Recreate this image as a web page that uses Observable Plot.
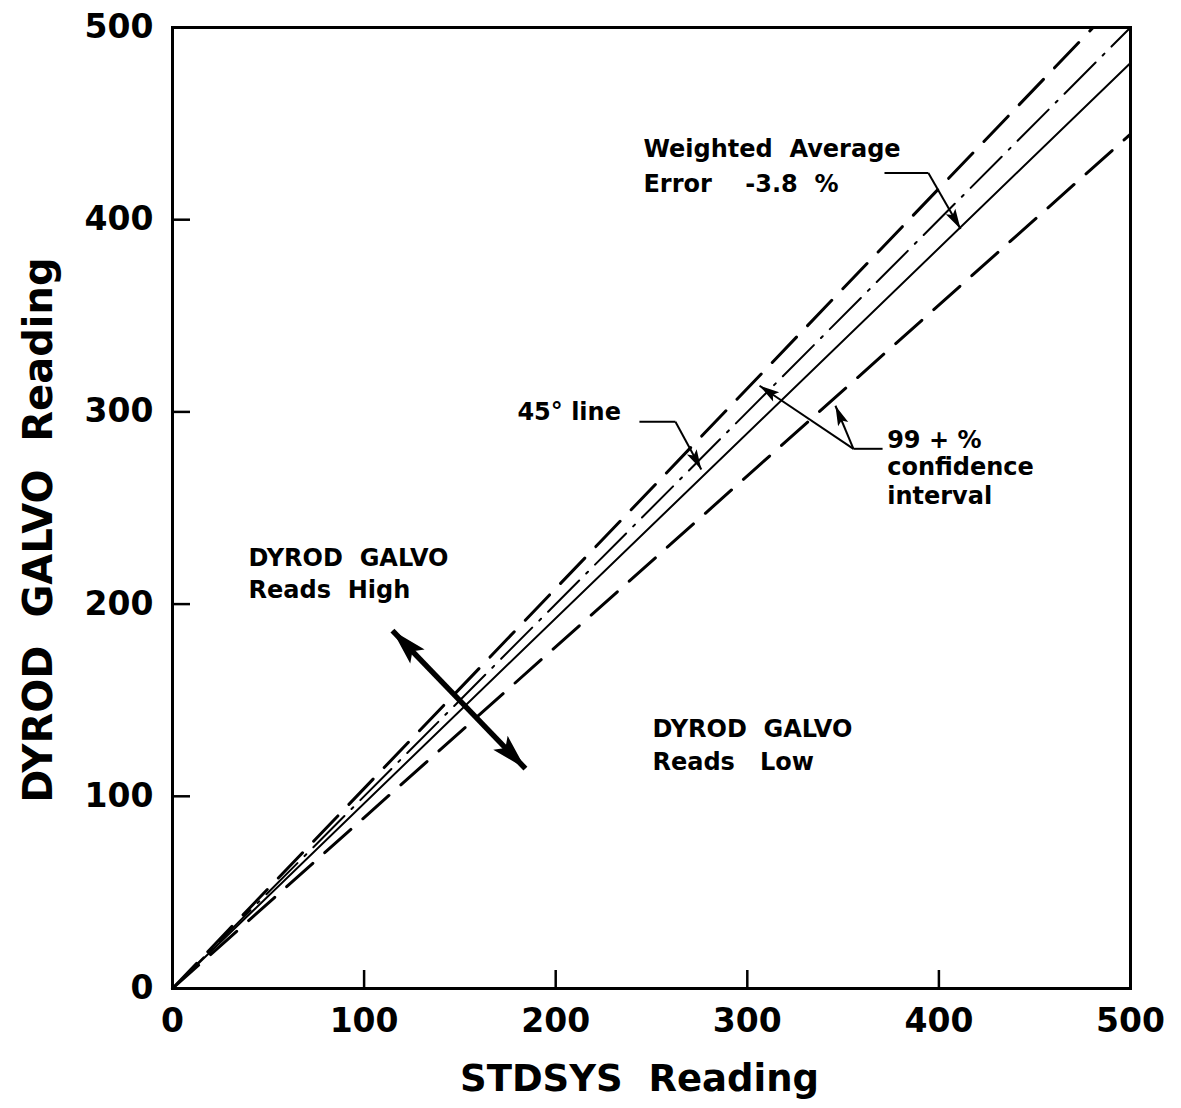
<!DOCTYPE html>
<html><head><meta charset="utf-8">
<script src="https://cdn.jsdelivr.net/npm/d3@7"></script>
<script src="https://cdn.jsdelivr.net/npm/@observablehq/plot@0.6"></script>
<style>
html,body{margin:0;padding:0;background:#fff;}
svg text{white-space:pre;}
</style></head><body><div id="chart"></div>
<script>
// ---- data ----
const axisTicks = [0, 100, 200, 300, 400, 500];
const innerTicks = [100, 200, 300, 400];

// reference lines (endpoints)
const line45X = [0, 500],  line45Y = [0, 500];      // 45° line
const fitX    = [0, 500],  fitY    = [0, 481.5];    // weighted average, -3.8 %
const upperX  = [0, 480.5],upperY  = [0, 500];      // 99+% confidence (upper)
const lowerX  = [0, 500],  lowerY  = [0, 444.5];    // 99+% confidence (lower)

// annotation texts
const noteText = ["Weighted  Average", "Error    -3.8  %", "45\u00b0 line", "99 + %", "confidence", "interval",
                  "DYROD  GALVO", "Reads  High", "DYROD  GALVO", "Reads   Low"];
const noteX = [245.8, 245.8, 180, 373, 373, 373, 39.7, 39.7, 250.5, 250.5];
const noteY = [436.8, 418.6, 300, 285, 271, 256, 224, 207, 135, 117.5];

// leader lines: horizontal part
const leadHX1 = [371.6, 243.7, 370.6];
const leadHX2 = [394.5, 262.5, 355.4];
const leadHY  = [424.3, 294.9, 280.8];
// leader arrows
const leadAX1 = [394.5, 262.5, 355.4, 355.4];
const leadAY1 = [424.3, 294.9, 280.8, 280.8];
const leadAX2 = [411.3, 276, 306.4, 346];
const leadAY2 = [395.2, 270, 313.6, 303.2];

// double arrow (reads high / reads low)
const dblX = [114.8, 184.2];
const dblY = [186.2, 114.4];

// ---- layout ----
const W = 1181, H = 1108;
const mT = 27, mR = 51, mB = 120, mL = 172;
const sx = (W - mL - mR) / 500, sy = (H - mT - mB) / 500;  // px per unit
const tickPx = 18;

const pts = (xs, ys) => xs.map((x, i) => ({x, y: ys[i]}));
const idx = (a) => a.map((_, i) => i);
// screen-space heading (degrees clockwise from "up") from (x1,y1) toward (x2,y2)
const heading = (x1, y1, x2, y2) => Math.atan2((x2 - x1) * sx, (y2 - y1) * sy) * 180 / Math.PI;
// narrow filled arrowhead with its tip at the anchor point
const head = (L, w) => ({draw(ctx) { ctx.moveTo(0, 0); ctx.lineTo(w, L); ctx.lineTo(0, L * 0.8); ctx.lineTo(-w, L); ctx.closePath(); }});

const leadHeads = idx(leadAX2).map(i => ({x: leadAX2[i], y: leadAY2[i], r: heading(leadAX1[i], leadAY1[i], leadAX2[i], leadAY2[i])}));
const dblHeads = [
  {x: dblX[0], y: dblY[0], r: heading(dblX[1], dblY[1], dblX[0], dblY[0])},
  {x: dblX[1], y: dblY[1], r: heading(dblX[0], dblY[0], dblX[1], dblY[1])}
];

const chart = Plot.plot({
  width: W, height: H,
  marginTop: mT, marginRight: mR, marginBottom: mB, marginLeft: mL,
  style: {fontFamily: "DejaVu Sans", background: "#fff", color: "#000"},
  x: {domain: [0, 500]},
  y: {domain: [0, 500]},
  marks: [
    Plot.axisX(axisTicks, {tickSize: 0, tickPadding: 20, fontSize: 33, fontWeight: "bold", label: null}),
    Plot.axisY(axisTicks, {tickSize: 0, tickPadding: 19, fontSize: 33, fontWeight: "bold", label: null}),
    Plot.ruleX(innerTicks, {x: d => d, y1: 0, y2: tickPx / sy, strokeWidth: 2.5}),
    Plot.ruleY(innerTicks, {y: d => d, x1: 0, x2: tickPx / sx, strokeWidth: 2.5}),
    Plot.line(pts(line45X, line45Y), {x: "x", y: "y", strokeWidth: 2, strokeDasharray: "44,10,2.5,10"}),
    Plot.line(pts(fitX, fitY), {x: "x", y: "y", strokeWidth: 2}),
    Plot.line(pts(upperX, upperY), {x: "x", y: "y", strokeWidth: 3, strokeDasharray: "35,16"}),
    Plot.line(pts(lowerX, lowerY), {x: "x", y: "y", strokeWidth: 3, strokeDasharray: "35,16"}),
    Plot.frame({strokeWidth: 3}),
    Plot.text(idx(noteText), {x: i => noteX[i], y: i => noteY[i], text: i => noteText[i],
      textAnchor: "start", lineAnchor: "middle", fontSize: 24, fontWeight: "bold"}),
    Plot.link(idx(leadHY), {x1: i => leadHX1[i], x2: i => leadHX2[i], y1: i => leadHY[i], y2: i => leadHY[i], strokeWidth: 2}),
    Plot.link(idx(leadAX1), {x1: i => leadAX1[i], y1: i => leadAY1[i], x2: i => leadAX2[i], y2: i => leadAY2[i], strokeWidth: 2}),
    Plot.dot(leadHeads, {x: "x", y: "y", rotate: "r", symbol: head(20, 5.5), fill: "black", stroke: null}),
    Plot.link([0], {x1: dblX[0], y1: dblY[0], x2: dblX[1], y2: dblY[1], strokeWidth: 5.5}),
    Plot.dot(dblHeads, {x: "x", y: "y", rotate: "r", symbol: head(36, 10), fill: "black", stroke: null}),
    Plot.text(["STDSYS  Reading"], {frameAnchor: "bottom", dx: -12, dy: 91, fontSize: 37, fontWeight: "bold",
      textAnchor: "middle", lineAnchor: "middle"}),
    Plot.text(["DYROD  GALVO  Reading"], {frameAnchor: "left", rotate: -90, dx: -133, dy: 22, fontSize: 40,
      fontWeight: "bold", textAnchor: "middle", lineAnchor: "middle"})
  ]
});
document.getElementById("chart").appendChild(chart);
</script>
</body></html>
